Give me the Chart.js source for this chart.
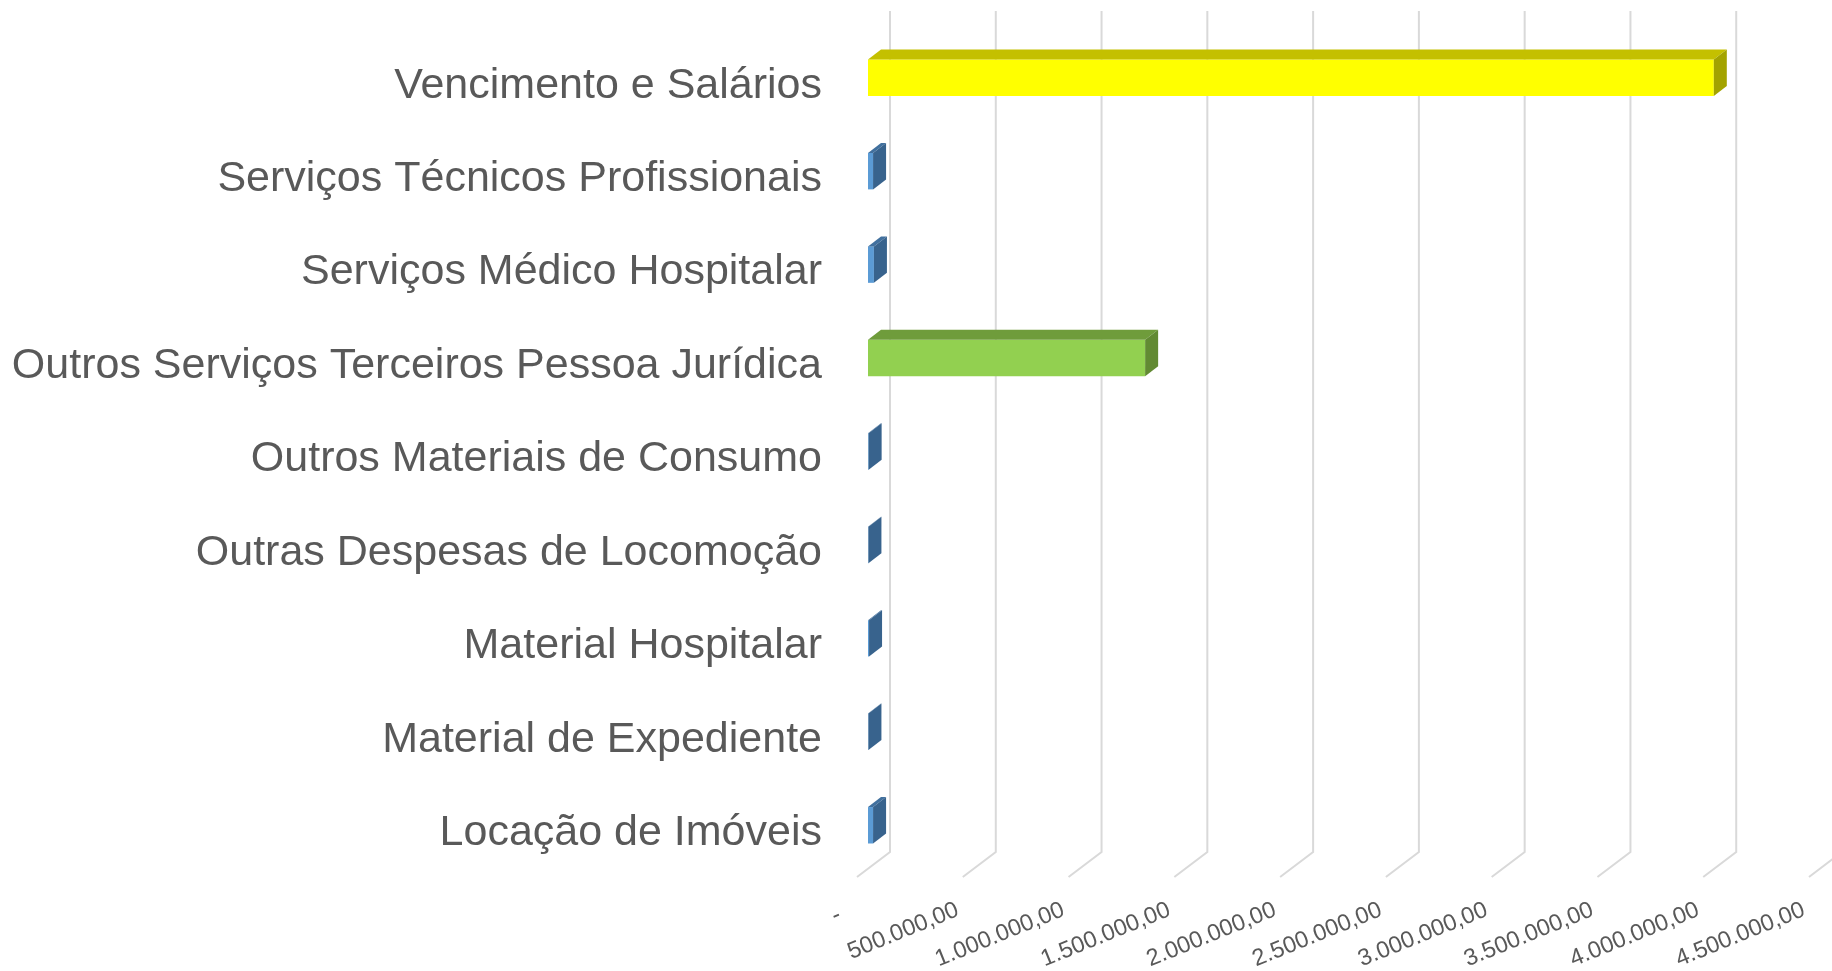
<!DOCTYPE html>
<html>
<head>
<meta charset="utf-8">
<title>Despesas</title>
<script src="https://cdn.jsdelivr.net/npm/chart.js@4.4.1/dist/chart.umd.min.js"></script>
<style>
  html, body { margin: 0; padding: 0; background: #fff; }
  #wrap { width: 1832px; height: 971px; position: relative; }
</style>
</head>
<body>
<div id="wrap"><canvas id="despesasChart"></canvas></div>
<script>
// data
const categories = [
  'Vencimento e Salários',
  'Serviços Técnicos Profissionais',
  'Serviços Médico Hospitalar',
  'Outros Serviços Terceiros Pessoa Jurídica',
  'Outros Materiais de Consumo',
  'Outras Despesas de Locomoção',
  'Material Hospitalar',
  'Material de Expediente',
  'Locação de Imóveis'
];
const values = [3998000, 24000, 28000, 1310000, 3000, 2000, 5000, 2000, 24000];
const axisMin = 0;
const axisMax = 4500000;
const axisStep = 500000;

// colours of the faces (front, top, right side)
const frontColors = ['#FFFF00', '#5B9BD5', '#5B9BD5', '#92D050', '#5B9BD5', '#5B9BD5', '#5B9BD5', '#5B9BD5', '#5B9BD5'];
const topColors   = ['#C4C000', '#41709E', '#41709E', '#6F9C3B', '#41709E', '#41709E', '#41709E', '#41709E', '#41709E'];
const sideColors  = ['#A3A300', '#38638D', '#38638D', '#628A33', '#38638D', '#38638D', '#38638D', '#38638D', '#38638D'];

// depth of the 3d look
const depthX = 13, depthY = -10;
const wallX = 22, wallY = -20, floorX = -11, floorY = 5;

function formatValue(v) {
  if (v === 0) return '-  ';
  let s = Math.round(v).toString();
  let out = '';
  while (s.length > 3) {
    out = '.' + s.slice(-3) + out;
    s = s.slice(0, -3);
  }
  return s + out + ',00';
}

const bar3d = {
  id: 'bar3d',
  beforeDatasetsDraw(chart) {
    const ctx = chart.ctx;
    const area = chart.chartArea;
    const xs = chart.scales.x;
    ctx.save();
    ctx.strokeStyle = '#D9D9D9';
    ctx.lineWidth = 2;
    xs.ticks.forEach(function(t) {
      const px = xs.getPixelForValue(t.value);
      ctx.beginPath();
      ctx.moveTo(px + wallX, area.top + wallY);
      ctx.lineTo(px + wallX, area.bottom + wallY);
      ctx.lineTo(px + floorX, area.bottom + floorY);
      ctx.stroke();
    });
    ctx.restore();
  },
  afterDatasetsDraw(chart) {
    const ctx = chart.ctx;
    const meta = chart.getDatasetMeta(0);
    ctx.save();
    meta.data.forEach(function(bar, i) {
      const p = bar.getProps(['x', 'y', 'base', 'height'], true);
      const top = p.y - p.height / 2;
      const bottom = p.y + p.height / 2;
      // top face
      ctx.fillStyle = topColors[i];
      ctx.beginPath();
      ctx.moveTo(p.base, top);
      ctx.lineTo(p.base + depthX, top + depthY);
      ctx.lineTo(p.x + depthX, top + depthY);
      ctx.lineTo(p.x, top);
      ctx.closePath();
      ctx.fill();
      // right face
      ctx.fillStyle = sideColors[i];
      ctx.beginPath();
      ctx.moveTo(p.x, top);
      ctx.lineTo(p.x + depthX, top + depthY);
      ctx.lineTo(p.x + depthX, bottom + depthY);
      ctx.lineTo(p.x, bottom);
      ctx.closePath();
      ctx.fill();
    });
    ctx.restore();
  }
};

const ctx = document.getElementById('despesasChart').getContext('2d');
const despesasChart = new Chart(ctx, {
  type: 'bar',
  data: {
    labels: categories,
    datasets: [{
      data: values,
      backgroundColor: frontColors,
      borderWidth: 0,
      barPercentage: 0.39,
      categoryPercentage: 1
    }]
  },
  options: {
    indexAxis: 'y',
    responsive: true,
    maintainAspectRatio: false,
    animation: false,
    layout: { padding: { top: 31, right: 12, bottom: 0, left: 0 } },
    plugins: {
      legend: { display: false },
      tooltip: { enabled: false }
    },
    scales: {
      x: {
        min: axisMin,
        max: axisMax,
        grid: { display: false, drawTicks: false },
        border: { display: false },
        ticks: {
          stepSize: axisStep,
          autoSkip: false,
          minRotation: 22,
          maxRotation: 22,
          labelOffset: -16,
          padding: 24,
          color: '#595959',
          font: { family: "'Liberation Sans', Arial, sans-serif", size: 23.5 },
          callback: function(value) { return formatValue(value); }
        },
        afterFit: function(scale) {
          scale.height = 99;
          scale.paddingLeft = 0;
          scale.paddingRight = 0;
        }
      },
      y: {
        grid: { display: false, drawTicks: false },
        border: { display: false },
        ticks: {
          padding: 46,
          labelOffset: 8,
          color: '#595959',
          font: { family: "'Liberation Sans', Arial, sans-serif", size: 43 }
        },
        afterFit: function(scale) {
          scale.width = 868;
          scale.paddingTop = 0;
          scale.paddingBottom = 0;
        }
      }
    }
  },
  plugins: [bar3d]
});
</script>
</body>
</html>
